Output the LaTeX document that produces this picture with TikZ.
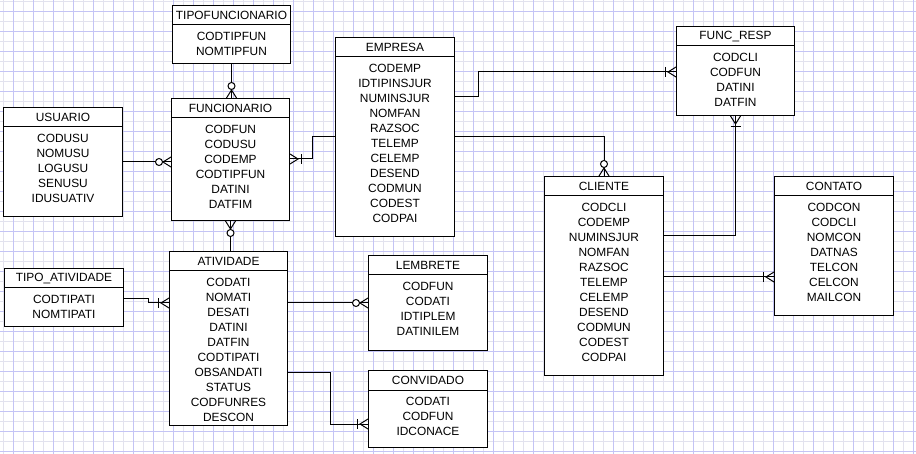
\documentclass[tikz,border=0pt]{standalone}
\usepackage{fontspec}
\setmainfont{Liberation Sans}

% tabela: nome, x, y, largura, altura, titulo, campos
\newcommand{\tabela}[7]{%
	\node[caixa,minimum width=#4pt,minimum height=#5pt] (#1) at (#2,#3) {};
	\draw[borda] ([yshift=-20pt]#1.north west) -- ([yshift=-20pt]#1.north east);
	\node[rotulo] (#1-titulo) at ([yshift=-10.5pt]#1.north) {#6};
	\node[campos] (#1-campos) at ([yshift=-26.5pt]#1.north) {#7};
}

\begin{document}
\begin{tikzpicture}[x=1pt,y=-1pt]
		\tikzstyle{borda}=[line width=1pt]
		\tikzstyle{caixa}=[draw,fill=white,line width=1pt,anchor=north west,inner sep=0pt]
		\tikzstyle{rotulo}=[inner sep=0pt,font=\fontsize{11.9}{15}\selectfont]
		\tikzstyle{campos}=[anchor=north,align=center,inner sep=0pt,font=\fontsize{11.9}{15}\selectfont]
		\tikzstyle{liga}=[line width=1pt]
		\tikzset{
			zeromuitos/.pic={\draw[liga] (0,5) -- (8,0) -- (0,-5); \draw[liga,fill=white] (12,0) circle (3.5pt);},
			ummuitos/.pic={\draw[liga] (0,5) -- (8,0) -- (0,-5); \draw[liga] (11,5) -- (11,-5);}
		}
		% fundo quadriculado
		\useasboundingbox (0,0) rectangle (916,454);
		\fill[white] (0,0) rectangle (916,454);
		\foreach \x in {3,23,...,903} \draw[color={rgb,255:red,226;green,226;blue,238}] (\x,0) -- (\x,454);
		\foreach \y in {1,21,...,441} \draw[color={rgb,255:red,226;green,226;blue,238}] (0,\y) -- (916,\y);
		\foreach \x in {13,33,...,913} \draw[color={rgb,255:red,196;green,196;blue,245}] (\x,0) -- (\x,454);
		\foreach \y in {11,31,...,451} \draw[color={rgb,255:red,196;green,196;blue,245}] (0,\y) -- (916,\y);
		% tabelas
		\tabela{tipofunc}{172}{5}{118}{58}{TIPOFUNCIONARIO}{CODTIPFUN\\NOMTIPFUN}
		\tabela{usuario}{3}{107}{119}{109}{USUARIO}{CODUSU\\NOMUSU\\LOGUSU\\SENUSU\\IDUSUATIV}
		\tabela{funcionario}{171}{98}{118}{122}{FUNCIONARIO}{CODFUN\\CODUSU\\CODEMP\\CODTIPFUN\\DATINI\\DATFIM}
		\tabela{empresa}{335}{37}{119}{199}{EMPRESA}{CODEMP\\IDTIPINSJUR\\NUMINSJUR\\NOMFAN\\RAZSOC\\TELEMP\\CELEMP\\DESEND\\CODMUN\\CODEST\\CODPAI}
		\tabela{funcresp}{676}{26}{118}{89}{FUNC\_RESP}{CODCLI\\CODFUN\\DATINI\\DATFIN}
		\tabela{cliente}{544}{176}{119}{199}{CLIENTE}{CODCLI\\CODEMP\\NUMINSJUR\\NOMFAN\\RAZSOC\\TELEMP\\CELEMP\\DESEND\\CODMUN\\CODEST\\CODPAI}
		\tabela{contato}{774}{176}{119}{139}{CONTATO}{CODCON\\CODCLI\\NOMCON\\DATNAS\\TELCON\\CELCON\\MAILCON}
		\tabela{tipoatividade}{4}{268}{119}{58}{TIPO\_ATIVIDADE}{CODTIPATI\\NOMTIPATI}
		\tabela{atividade}{169}{251}{118}{174}{ATIVIDADE}{CODATI\\NOMATI\\DESATI\\DATINI\\DATFIN\\CODTIPATI\\OBSANDATI\\STATUS\\CODFUNRES\\DESCON}
		\tabela{lembrete}{368}{255}{119}{95}{LEMBRETE}{CODFUN\\CODATI\\IDTIPLEM\\DATINILEM}
		\tabela{convidado}{368}{370}{119}{77}{CONVIDADO}{CODATI\\CODFUN\\IDCONACE}
		% relacionamentos
		\draw[liga] (tipofunc.south) -- (tipofunc.south |- funcionario.north);
		\draw[liga] ([yshift=-55pt]usuario.north east) -- ([yshift=-64pt]funcionario.north west);
		\draw[liga] ([yshift=-100pt]empresa.north west) -- ++(-23,0) |- ([yshift=-61pt]funcionario.north east);
		\draw[liga] ([yshift=-60pt]empresa.north east) -- ++(23,0) |- ([yshift=-46pt]funcresp.north west);
		\draw[liga] ([yshift=-100pt]empresa.north east) -| (cliente.north);
		\draw[liga] ([yshift=-60pt]cliente.north east) -| (funcresp.south);
		\draw[liga] ([yshift=-101pt]cliente.north east) -- ([yshift=-101pt]contato.north west);
		\draw[liga] (funcionario.south) -- (funcionario.south |- atividade.north);
		\draw[liga] ([yshift=-31pt]tipoatividade.north east) -- ++(24,0) |- ([yshift=-52pt]atividade.north west);
		\draw[liga] ([yshift=-52pt]atividade.north east) -- ([yshift=-48pt]lembrete.north west);
		\draw[liga] ([yshift=-122pt]atividade.north east) -- ++(42,0) |- ([yshift=-54pt]convidado.north west);
		% cardinalidades
		\pic[rotate=90] at (tipofunc.south |- funcionario.north) {zeromuitos};
		\pic[rotate=180] at ([yshift=-64pt]funcionario.north west) {zeromuitos};
		\pic at ([yshift=-61pt]funcionario.north east) {ummuitos};
		\pic[rotate=180] at ([yshift=-46pt]funcresp.north west) {ummuitos};
		\pic[rotate=90] at (cliente.north) {zeromuitos};
		\pic[rotate=-90] at (funcresp.south) {ummuitos};
		\pic[rotate=180] at ([yshift=-101pt]contato.north west) {ummuitos};
		\pic[rotate=-90] at (funcionario.south) {zeromuitos};
		\pic[rotate=180] at ([yshift=-52pt]atividade.north west) {ummuitos};
		\pic[rotate=180] at ([yshift=-48pt]lembrete.north west) {zeromuitos};
		\pic[rotate=180] at ([yshift=-54pt]convidado.north west) {ummuitos};
	\end{tikzpicture}
\end{document}
